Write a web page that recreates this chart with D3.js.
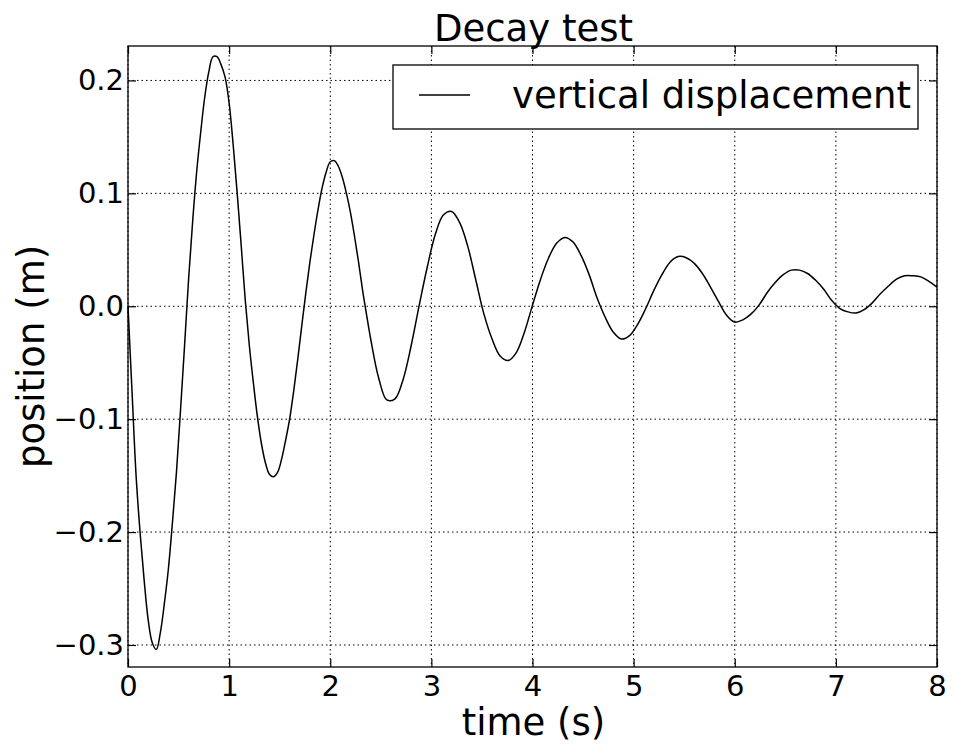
<!DOCTYPE html>
<html>
<head>
<meta charset="utf-8">
<script src="https://cdn.jsdelivr.net/npm/d3@7"></script>
<style>
  body { margin: 0; background: #fff; }
  text { font-family: 'DejaVu Sans', sans-serif; fill: #000; }
</style>
</head>
<body>
<div id="chart"></div>
<script>
// chart size and plot box
let svgWidth = 954;
let svgHeight = 748;
let margin = { top: 46, left: 128, right: 17, bottom: 81 };
let width = svgWidth - margin.left - margin.right;
let height = svgHeight - margin.top - margin.bottom;

// data
// first part sampled every 0.04 s, the rest every 0.08 s
let timeFine = d3.range(0, 2.41, 0.04);
let posFine = [
    0.000, -0.076, -0.150, -0.201, -0.243, -0.278, -0.298, -0.304, -0.289, -0.263,
    -0.232, -0.191, -0.146, -0.091, -0.034, 0.025, 0.076, 0.120, 0.155, 0.186,
    0.208, 0.221, 0.221, 0.214, 0.203, 0.180, 0.143, 0.100, 0.053, 0.005,
    -0.035, -0.068, -0.098, -0.122, -0.139, -0.149, -0.151, -0.147, -0.135, -0.118,
    -0.099, -0.074, -0.046, -0.016, 0.013, 0.040, 0.064, 0.086, 0.105, 0.119,
    0.128, 0.129, 0.124, 0.114, 0.100, 0.083, 0.062, 0.039, 0.014, -0.008,
    -0.029
];
let timeCoarse = d3.range(2.48, 8.001, 0.08);
let posCoarse = [
    -0.064, -0.083, -0.082, -0.065, -0.035, 0.001, 0.035,
    0.064, 0.081, 0.084, 0.074, 0.053, 0.023, -0.007, -0.029, -0.044, -0.048, -0.041, -0.023,
    0.001, 0.024, 0.043, 0.056, 0.061, 0.057, 0.045, 0.028, 0.007, -0.010, -0.023, -0.029, -0.026,
    -0.016, -0.002, 0.014, 0.028, 0.039, 0.044, 0.043, 0.038, 0.029, 0.017, 0.004, -0.008,
    -0.014, -0.012, -0.007, 0.001, 0.012, 0.021, 0.028, 0.032, 0.032, 0.029, 0.023, 0.015, 0.005,
    -0.002, -0.005, -0.006, -0.003, 0.003, 0.011, 0.018, 0.024, 0.027, 0.027, 0.026, 0.022,
    0.017
];
let xTicks = [0, 1, 2, 3, 4, 5, 6, 7, 8];
let yTicks = [-0.3, -0.2, -0.1, 0.0, 0.1, 0.2];
let seriesName = 'vertical displacement';

let points = timeFine.map((t, i) => ({ t: t, v: posFine[i] }))
    .concat(timeCoarse.map((t, i) => ({ t: t, v: posCoarse[i] })));

let svg = d3.select('#chart')
    .append('svg')
    .attr('width', svgWidth)
    .attr('height', svgHeight);

let plot = svg.append('g')
    .attr('transform', `translate(${margin.left}, ${margin.top})`);

let x = d3.scaleLinear().domain([0, 8]).range([0, width]);
let y = d3.scaleLinear().domain([-0.3195, 0.2305]).range([height, 0]);

// dotted grid
plot.append('g')
    .selectAll('line')
    .data(xTicks)
    .enter()
    .append('line')
    .attr('x1', d => x(d)).attr('x2', d => x(d))
    .attr('y1', 0).attr('y2', height)
    .attr('stroke', '#000').attr('stroke-width', 1)
    .attr('stroke-dasharray', '1.5,3');
plot.append('g')
    .selectAll('line')
    .data(yTicks)
    .enter()
    .append('line')
    .attr('x1', 0).attr('x2', width)
    .attr('y1', d => y(d)).attr('y2', d => y(d))
    .attr('stroke', '#000').attr('stroke-width', 1)
    .attr('stroke-dasharray', '1.5,3');

// the curve
let line = d3.line()
    .x(d => x(d.t))
    .y(d => y(d.v))
    .curve(d3.curveCatmullRom.alpha(0.5));
plot.append('path')
    .datum(points)
    .attr('d', line)
    .attr('fill', 'none')
    .attr('stroke', '#000')
    .attr('stroke-width', 1.5);

// axes, ticks point inwards like matplotlib classic
let fmtY = d => d3.format('.1f')(d).replace('-', '\u2212');
let bottomAxis = d3.axisBottom(x).tickValues(xTicks).tickSizeInner(-8).tickSizeOuter(0).tickPadding(8)
    .tickFormat(d3.format('d'));
let topAxis = d3.axisTop(x).tickValues(xTicks).tickSizeInner(-8).tickSizeOuter(0).tickFormat('');
let leftAxis = d3.axisLeft(y).tickValues(yTicks).tickSizeInner(-8).tickSizeOuter(0).tickPadding(4)
    .tickFormat(fmtY);
let rightAxis = d3.axisRight(y).tickValues(yTicks).tickSizeInner(-8).tickSizeOuter(0).tickFormat('');

let gx = plot.append('g').attr('transform', `translate(0, ${height})`).call(bottomAxis);
let gt = plot.append('g').call(topAxis);
let gy = plot.append('g').call(leftAxis);
let gr = plot.append('g').attr('transform', `translate(${width}, 0)`).call(rightAxis);

[gx, gt, gy, gr].forEach(g => {
    g.select('.domain').remove();
    g.selectAll('line').attr('stroke', '#000').attr('stroke-width', 1.2);
    g.selectAll('text').style('font-size', '29px').attr('fill', '#000');
});

// frame
plot.append('rect')
    .attr('width', width).attr('height', height)
    .attr('fill', 'none').attr('stroke', '#000').attr('stroke-width', 1.3);

// title and labels
svg.append('text')
    .attr('x', margin.left + width / 2 + 1).attr('y', 41)
    .attr('text-anchor', 'middle')
    .style('font-size', '37px')
    .text('Decay test');
svg.append('text')
    .attr('x', margin.left + width / 2 + 1).attr('y', 735)
    .attr('text-anchor', 'middle')
    .style('font-size', '37px')
    .text('time (s)');
svg.append('text')
    .attr('transform', `translate(44, ${margin.top + height / 2}) rotate(-90)`)
    .attr('text-anchor', 'middle')
    .style('font-size', '37px')
    .text('position (m)');

// legend
let legend = svg.append('g');
legend.append('rect')
    .attr('x', 393).attr('y', 65)
    .attr('width', 525).attr('height', 64)
    .attr('fill', '#fff').attr('stroke', '#000').attr('stroke-width', 1.3);
legend.append('line')
    .attr('x1', 419).attr('x2', 470)
    .attr('y1', 95).attr('y2', 95)
    .attr('stroke', '#000').attr('stroke-width', 1.5);
legend.append('text')
    .attr('x', 512).attr('y', 108)
    .style('font-size', '37px')
    .text(seriesName);
</script>
</body>
</html>
